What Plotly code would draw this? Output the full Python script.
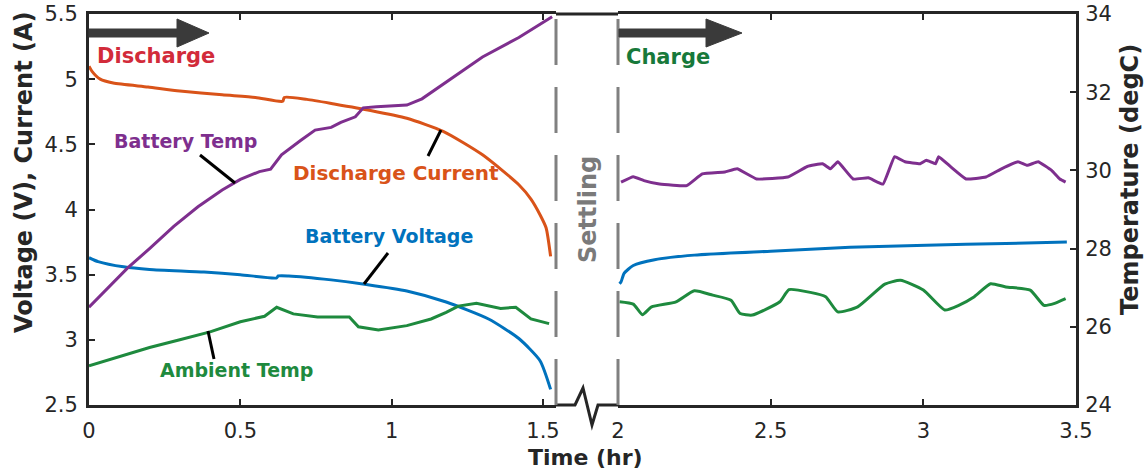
import plotly.graph_objects as go

# ---------------- data ----------------
# Discharge phase (time in hr)
cur_t = [0, 0.01, 0.037, 0.08, 0.195, 0.30, 0.44, 0.55, 0.64, 0.645, 0.72, 0.81, 0.93, 1.05, 1.17, 1.30, 1.42, 1.46, 1.49, 1.51, 1.525]
cur_v = [5.10, 5.06, 5.00, 4.97, 4.94, 4.91, 4.88, 4.86, 4.83, 4.86, 4.845, 4.81, 4.76, 4.70, 4.60, 4.42, 4.19, 4.08, 3.96, 3.86, 3.64]

volt_dis_t = [0, 0.03, 0.114, 0.2, 0.38, 0.5, 0.62, 0.625, 0.66, 0.8, 0.916, 1.05, 1.18, 1.32, 1.42, 1.49, 1.525]
volt_dis_v = [3.63, 3.60, 3.56, 3.54, 3.52, 3.50, 3.475, 3.49, 3.49, 3.46, 3.425, 3.375, 3.29, 3.16, 3.01, 2.84, 2.62]

btemp_dis_t = [0, 0.06, 0.127, 0.2, 0.28, 0.36, 0.44, 0.5, 0.563, 0.60, 0.636, 0.70, 0.747, 0.80, 0.832, 0.88, 0.906, 0.95, 1.05, 1.10, 1.175, 1.30, 1.42, 1.53]
btemp_dis_c = [26.5, 26.97, 27.5, 28.0, 28.57, 29.07, 29.5, 29.77, 29.97, 30.03, 30.4, 30.77, 31.03, 31.1, 31.23, 31.37, 31.6, 31.63, 31.67, 31.83, 32.23, 32.9, 33.4, 33.93]

amb_dis_t = [0, 0.1, 0.2, 0.3, 0.4, 0.5, 0.58, 0.62, 0.675, 0.755, 0.86, 0.89, 0.956, 1.05, 1.13, 1.18, 1.22, 1.28, 1.36, 1.41, 1.46, 1.52]
amb_dis_c = [25.0, 25.23, 25.47, 25.67, 25.87, 26.13, 26.27, 26.5, 26.33, 26.25, 26.25, 26.0, 25.92, 26.03, 26.2, 26.37, 26.53, 26.6, 26.47, 26.5, 26.2, 26.08]

# Charge phase
volt_chg_t = [2.005, 2.01, 2.02, 2.05, 2.12, 2.25, 2.5, 2.76, 3.01, 3.27, 3.47]
volt_chg_v = [3.43, 3.445, 3.51, 3.57, 3.615, 3.65, 3.68, 3.71, 3.725, 3.74, 3.75]

btemp_chg_t = [2.01, 2.05, 2.085, 2.136, 2.225, 2.276, 2.35, 2.39, 2.454, 2.556, 2.62, 2.67, 2.696, 2.72, 2.77, 2.82, 2.868, 2.906, 2.94, 2.99, 3.01, 3.04, 3.05, 3.09, 3.14, 3.205, 3.256, 3.31, 3.34, 3.376, 3.42, 3.447, 3.466]
btemp_chg_c = [29.70, 29.84, 29.74, 29.65, 29.61, 29.91, 29.96, 30.04, 29.78, 29.83, 30.1, 30.17, 30.04, 30.22, 29.78, 29.81, 29.65, 30.35, 30.22, 30.17, 30.26, 30.17, 30.35, 30.09, 29.78, 29.83, 30.04, 30.22, 30.13, 30.22, 30.0, 29.78, 29.70]

amb_chg_t = [2.005, 2.05, 2.08, 2.11, 2.19, 2.25, 2.31, 2.37, 2.40, 2.44, 2.53, 2.56, 2.63, 2.68, 2.72, 2.785, 2.874, 2.925, 3.0, 3.07, 3.116, 3.167, 3.22, 3.27, 3.35, 3.395, 3.43, 3.466]
amb_chg_c = [26.64, 26.58, 26.31, 26.51, 26.64, 26.92, 26.81, 26.68, 26.34, 26.30, 26.64, 26.95, 26.88, 26.77, 26.38, 26.51, 27.09, 27.19, 26.94, 26.43, 26.55, 26.77, 27.1, 27.02, 26.94, 26.55, 26.6, 26.72]

x_ticks_dis = [0, 0.5, 1, 1.5]
x_ticks_chg = [2, 2.5, 3, 3.5]

# ---------------- style ----------------
FONT = "DejaVu Sans"
INK = "#262626"
C_CUR = "#D95319"
C_VOLT = "#0072BD"
C_BT = "#7E2F8E"
C_AMB = "#1E8A3E"
C_DIS_TXT = "#D22B3A"
C_CHG_TXT = "#17793A"
GRAY = "#808080"

W, H = 1146, 473
L, R, T, B = 89, 70, 14, 68
PW, PH = W - L - R, H - T - B


def px(x):
    return (x - L) / PW


def py(y):
    return (H - B - y) / PH


fig = go.Figure()
lw = 3
spl = dict(shape="spline", smoothing=0.6)
fig.add_trace(go.Scatter(x=cur_t, y=cur_v, mode="lines", line=dict(color=C_CUR, width=lw, **spl), xaxis="x", yaxis="y"))
fig.add_trace(go.Scatter(x=volt_dis_t, y=volt_dis_v, mode="lines", line=dict(color=C_VOLT, width=lw, **spl), xaxis="x", yaxis="y"))
fig.add_trace(go.Scatter(x=btemp_dis_t, y=btemp_dis_c, mode="lines", line=dict(color=C_BT, width=lw), xaxis="x", yaxis="y3"))
fig.add_trace(go.Scatter(x=amb_dis_t, y=amb_dis_c, mode="lines", line=dict(color=C_AMB, width=lw), xaxis="x", yaxis="y3"))
fig.add_trace(go.Scatter(x=volt_chg_t, y=volt_chg_v, mode="lines", line=dict(color=C_VOLT, width=lw, **spl), xaxis="x2", yaxis="y4"))
fig.add_trace(go.Scatter(x=btemp_chg_t, y=btemp_chg_c, mode="lines", line=dict(color=C_BT, width=lw, shape="spline", smoothing=0.3), xaxis="x2", yaxis="y2"))
fig.add_trace(go.Scatter(x=amb_chg_t, y=amb_chg_c, mode="lines", line=dict(color=C_AMB, width=lw, shape="spline", smoothing=0.5), xaxis="x2", yaxis="y2"))

tickfont = dict(family=FONT, size=21, color=INK)
axcommon = dict(showline=True, linecolor=INK, linewidth=3, ticks="inside", ticklen=6,
                tickwidth=2, tickcolor=INK, tickfont=tickfont, showgrid=False, zeroline=False,
                automargin=False)

x_left_end = px(556)
x_right_start = px(618)

fig.update_layout(
    width=W, height=H, margin=dict(l=L, r=R, t=T, b=B, autoexpand=False),
    paper_bgcolor="white", plot_bgcolor="white", showlegend=False,
    xaxis=dict(domain=[0, x_left_end], range=[0, 1.5428], tickvals=x_ticks_dis, anchor="y",
               mirror="ticks", ticklabelstandoff=5, **axcommon),
    xaxis2=dict(domain=[x_right_start, 1], range=[2, 3.5], tickvals=x_ticks_chg, anchor="y2",
                mirror="ticks", ticklabelstandoff=5, **axcommon),
    yaxis=dict(domain=[0, 1], range=[2.5, 5.5], dtick=0.5, anchor="x", ticklabelstandoff=4, **axcommon),
    yaxis2=dict(domain=[0, 1], range=[24, 34], dtick=2, anchor="x2", side="right", ticklabelstandoff=2, **axcommon),
    yaxis3=dict(range=[24, 34], overlaying="y", anchor="x", visible=False),
    yaxis4=dict(range=[2.5, 5.5], overlaying="y2", anchor="x2", visible=False),
)

shapes = []
# frame across the break
shapes.append(dict(type="line", xref="paper", yref="paper", x0=x_left_end, x1=x_right_start, y0=1, y1=1,
                   line=dict(color=INK, width=3)))
zig = "M {a},{y0} L {b},{y0} L {c},{ya} L {d},{yb} L {e},{y0} L {f},{y0}".format(
    a=x_left_end, b=px(575), c=px(583), d=px(592), e=px(598), f=x_right_start,
    y0=0, ya=py(388), yb=py(425))
shapes.append(dict(type="path", xref="paper", yref="paper", path=zig, line=dict(color=INK, width=3)))
# dashed separators
for xx in (x_left_end, x_right_start):
    shapes.append(dict(type="line", xref="paper", yref="paper", x0=xx, x1=xx, y0=0, y1=1,
                       line=dict(color=GRAY, width=3, dash="46px,22px")))


# direction arrows
def arrow(x0, xb, xt, yc):
    s = 4
    h = 14
    p = "M {x0},{a} L {xb},{a} L {xb},{ha} L {xt},{c} L {xb},{hb} L {xb},{b} L {x0},{b} Z".format(
        x0=px(x0), xb=px(xb), xt=px(xt), a=py(yc - s), b=py(yc + s), ha=py(yc - h), hb=py(yc + h), c=py(yc))
    return dict(type="path", xref="paper", yref="paper", path=p, fillcolor="#3a3a3a",
                line=dict(color="#3a3a3a", width=1))


shapes.append(arrow(89, 177, 209, 33))
shapes.append(arrow(619, 706, 742, 33))

# leader lines
for (x0, y0, x1, y1) in [(200, 155, 235, 183), (428, 156, 441, 130), (388, 253, 364, 284), (208, 331, 214, 359)]:
    shapes.append(dict(type="line", xref="paper", yref="paper", x0=px(x0), y0=py(y0), x1=px(x1), y1=py(y1),
                       line=dict(color="black", width=3)))
fig.update_layout(shapes=shapes)

ann = []


def label(text, x, y, color, size, angle=0):
    ann.append(dict(text=text, x=px(x), y=py(y), xref="paper", yref="paper", showarrow=False,
                    xanchor="center", yanchor="middle", textangle=angle,
                    font=dict(family=FONT, size=size, color=color, weight="bold")))


label("Discharge", 156, 56, C_DIS_TXT, 21)
label("Charge", 668, 57, C_CHG_TXT, 21)
label("Battery Temp", 185, 141, C_BT, 19)
label("Discharge Current", 396, 173, C_CUR, 20)
label("Battery Voltage", 389, 236, C_VOLT, 19)
label("Ambient Temp", 236, 370, C_AMB, 19)
label("Settling", 588, 210, "#7a7a7a", 24, -90)
label("Voltage (V), Current (A)", 24, 172, INK, 24, -90)
label("Temperature (degC)", 1130, 180, INK, 24, -90)
label("Time (hr)", 585, 457, INK, 22)
fig.update_layout(annotations=ann)

fig.write_html("out.html", config={"displayModeBar": False},
               post_script="document.body.style.margin='0px';")
